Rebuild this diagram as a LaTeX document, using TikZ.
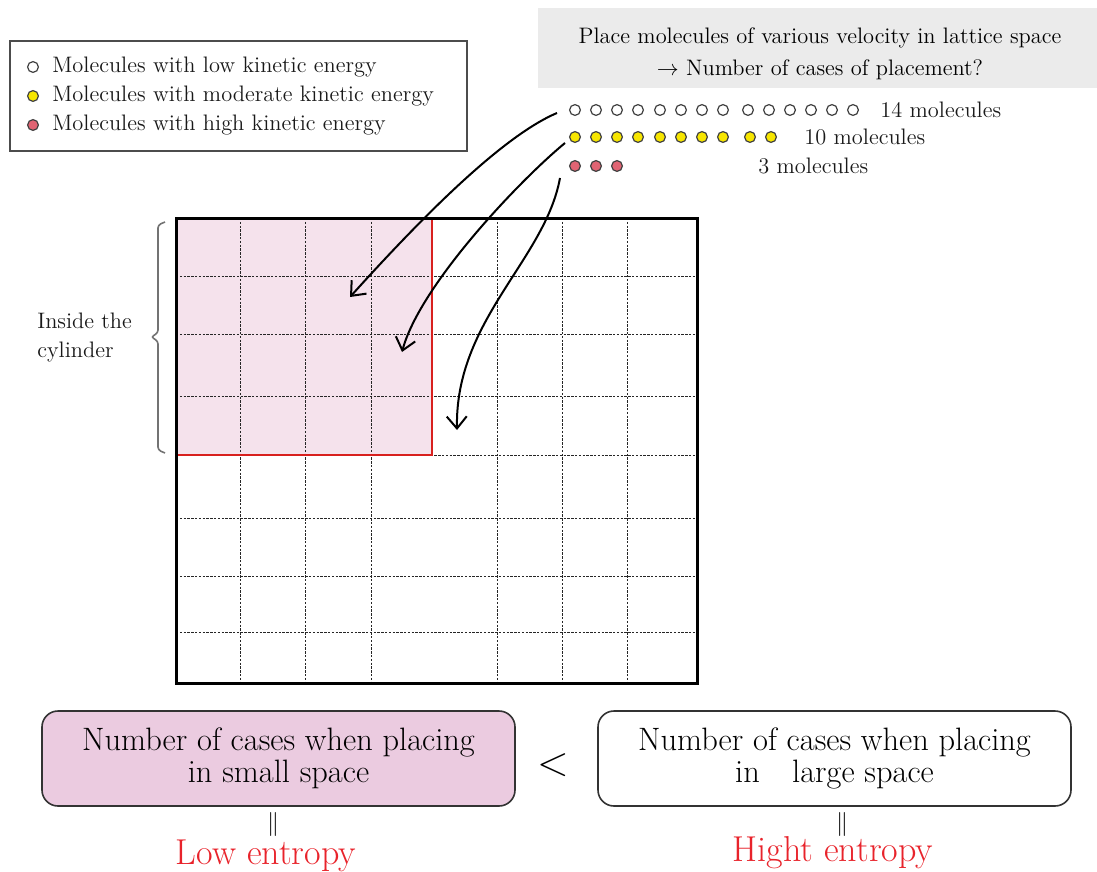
\documentclass[tikz,border=0pt]{standalone}
\usepackage{amsmath,amssymb}
\usepackage{tikz}
\usepackage{xcolor}
\usetikzlibrary{arrows.meta}
\definecolor{cellpink}{HTML}{F5E2EC}
\definecolor{boxpink}{HTML}{EBCBE0}
\definecolor{titlegray}{HTML}{EBEBEB}
\definecolor{molyellow}{HTML}{F7E600}
\definecolor{molred}{HTML}{E06473}
\definecolor{entred}{HTML}{E8232B}
\definecolor{wallred}{HTML}{D8201E}

\begin{document}
\begin{tikzpicture}[x=0.5pt,y=-0.5pt,
  mol/.style={draw=black!75,line width=0.6pt},
  gridline/.style={black!85,line width=0.45pt,dash pattern=on 1.2pt off 0.7pt},
  arr/.style={line width=1pt,-{Straight Barb[length=6pt,width=10pt]}},
  txt/.style={font=\fontsize{11.2}{14.5}\selectfont,text=black!90,inner sep=0pt},
  casebox/.style={draw=black!80,line width=0.8pt,rounded corners=8pt,minimum width=236.5pt,minimum height=47.5pt,align=center,font=\fontsize{16.2}{16}\selectfont},
  entropy/.style={text=entred,font=\fontsize{18}{20}\selectfont,anchor=base}]
\useasboundingbox (0,0) rectangle (1097,872);

\draw[black!70,line width=1pt] (10,41) rectangle (467,151);
\draw[mol,fill=white] (33,67) circle (2.7pt);
\draw[mol,fill=molyellow] (33,96) circle (2.7pt);
\draw[mol,fill=molred] (33,125) circle (2.7pt);
\node[txt,anchor=west] (lowleg) at (52,67) {Molecules with low kinetic energy};
\node[txt,anchor=west] (midleg) at (52,96) {Molecules with moderate kinetic energy};
\node[txt,anchor=west] (highleg) at (52,125) {Molecules with high kinetic energy};

\fill[titlegray] (538,8) rectangle (1097,88);
\node[txt,align=center,text=black,font=\fontsize{11.2}{16}\selectfont] (title) at (820,54) {Place molecules of various velocity in lattice space\\$\rightarrow$ Number of cases of placement?};

\foreach \x in {575,596,617,638,660,681,702,723,748,769,790,811,832,853} \draw[mol,fill=white] (\x,110) circle (2.7pt);
\foreach \x in {575,596,617,638,660,681,702,723,750,771} \draw[mol,fill=molyellow] (\x,137) circle (2.7pt);
\foreach \x in {575,596,617} \draw[mol,fill=molred] (\x,166) circle (2.7pt);
\node[txt,anchor=west] (n14) at (880,110) {14 molecules};
\node[txt,anchor=west] (n10) at (804,137) {10 molecules};
\node[txt,anchor=west] (n3) at (758,166) {3 molecules};

\fill[cellpink] (176,218) rectangle (432,455);
\foreach \x in {240,305,371,497,562,627} \draw[gridline] (\x,218) -- (\x,683);
\foreach \y in {276,334,396,455,518,576,632} \draw[gridline] (176,\y) -- (700,\y);
\draw[wallred,line width=1.2pt] (432,218) -- (432,455) -- (176,455);
\draw[line width=1.5pt] (176,218) rectangle (697,683);

\draw[black!55,line width=0.8pt,rounded corners=1.5pt] (165,222) -- (158,225) -- (158,333) -- (151,337) -- (158,341) -- (158,450) -- (165,453);
\node[txt,align=left,anchor=west] (inside) at (37,338) {Inside the\\cylinder};

\coordinate (s1) at (557,113); \coordinate (e1) at (350,297);
\coordinate (s2) at (565,143); \coordinate (e2) at (402,352);
\coordinate (s3) at (560,178); \coordinate (e3) at (457,430);
\draw[arr] (s1) .. controls (500,137) and (415,225) .. (e1);
\draw[arr] (s2) .. controls (520,180) and (420,285) .. (e2);
\draw[arr] (s3) .. controls (545,260) and (455,320) .. (e3);

\node[casebox,fill=boxpink] (small) at (278.5,758.5) {Number of cases when placing\\in small space};
\node[casebox] (large) at (834.5,758.5) {Number of cases when placing\\in\quad large space};
\node[font=\fontsize{20}{20}\selectfont] (lt) at (553,765) {$<$};
\node[font=\fontsize{12}{12}\selectfont] (eqlow) at (273,824) {$\Vert$};
\node[font=\fontsize{12}{12}\selectfont] (eqhigh) at (842,824) {$\Vert$};
\node[entropy] (low) at (266,864) {Low entropy};
\node[entropy] (high) at (833,861) {Hight entropy};
\end{tikzpicture}
\end{document}
